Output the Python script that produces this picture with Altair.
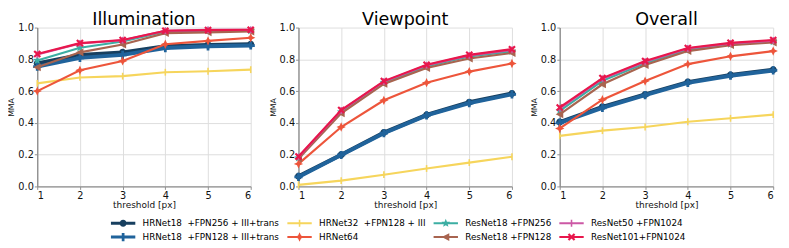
import math
import altair as alt
import pandas as pd

# ---------------- data ----------------
thresholds = [1, 2, 3, 4, 5, 6]
panels = ["Illumination", "Viewpoint", "Overall"]
series = [
    "HRNet18\u00a0 +FPN256 + III+trans",
    "HRNet18\u00a0 +FPN128 + III+trans",
    "HRNet32\u00a0 +FPN128 + III",
    "HRNet64",
    "ResNet18 +FPN256",
    "ResNet18 +FPN128",
    "ResNet50 +FPN1024",
    "ResNet101+FPN1024",
]

illumination = [
    [0.774, 0.828, 0.844, 0.883, 0.891, 0.895],
    [0.754, 0.809, 0.828, 0.871, 0.882, 0.887],
    [0.649, 0.686, 0.694, 0.719, 0.725, 0.735],
    [0.600, 0.731, 0.790, 0.895, 0.916, 0.936],
    [0.793, 0.873, 0.912, 0.975, 0.980, 0.980],
    [0.750, 0.844, 0.893, 0.965, 0.970, 0.975],
    [0.830, 0.900, 0.920, 0.980, 0.985, 0.985],
    [0.834, 0.902, 0.922, 0.980, 0.984, 0.986],
]
viewpoint = [
    [0.064, 0.200, 0.339, 0.450, 0.530, 0.585],
    [0.060, 0.198, 0.335, 0.447, 0.525, 0.580],
    [0.010, 0.037, 0.074, 0.113, 0.150, 0.187],
    [0.142, 0.374, 0.542, 0.653, 0.723, 0.774],
    [0.180, 0.470, 0.655, 0.755, 0.818, 0.850],
    [0.175, 0.460, 0.645, 0.745, 0.805, 0.840],
    [0.185, 0.478, 0.660, 0.763, 0.825, 0.860],
    [0.189, 0.481, 0.663, 0.766, 0.828, 0.864],
]
overall = [
    [0.405, 0.501, 0.579, 0.657, 0.702, 0.735],
    [0.400, 0.495, 0.575, 0.652, 0.697, 0.730],
    [0.318, 0.351, 0.374, 0.407, 0.429, 0.452],
    [0.365, 0.546, 0.663, 0.770, 0.819, 0.852],
    [0.475, 0.665, 0.775, 0.860, 0.895, 0.912],
    [0.454, 0.643, 0.764, 0.852, 0.889, 0.906],
    [0.490, 0.678, 0.785, 0.868, 0.900, 0.918],
    [0.497, 0.682, 0.789, 0.871, 0.904, 0.922],
]
panel_values = [illumination, viewpoint, overall]

y_ticks = [0.0, 0.2, 0.4, 0.6, 0.8, 1.0]

# ---------------- styles ----------------
colors = ["#173F5F", "#20639B", "#F6D55C", "#ED553B",
          "#3CAEA3", "#A8644F", "#CC58A5", "#E8174C"]
widths = [4.0, 4.0, 2.2, 2.2, 2.2, 2.2, 2.2, 2.2]
marker_kind = ["circle", "plus", "bar", "star4", "star5", "tri", "bar", "x"]
legend_line_half = [1.6, 1.6, 1.0, 1.0, 1.0, 1.0, 1.0, 1.0]
FONT = "DejaVu Sans"


def poly(pts):
    return "M" + "L".join(f"{x:.2f},{y:.2f}" for x, y in pts) + "Z"


def marker_path(kind):
    if kind == "circle":
        r = 3.6
        return f"M{r},0A{r},{r} 0 1,1 {-r},0A{r},{r} 0 1,1 {r},0Z"
    if kind == "plus":
        a, w = 4.2, 1.4
        return poly([(-w, -a), (w, -a), (w, -w), (a, -w), (a, w), (w, w),
                     (w, a), (-w, a), (-w, w), (-a, w), (-a, -w), (-w, -w)])
    if kind == "bar":
        return poly([(-0.8, -3.5), (0.8, -3.5), (0.8, 3.5), (-0.8, 3.5)])
    if kind == "star4":
        a, i = 4.8, 1.5
        return poly([(0, -a), (i, -i), (a, 0), (i, i), (0, a), (-i, i), (-a, 0), (-i, -i)])
    if kind == "star5":
        pts = []
        for k in range(10):
            ang = -math.pi / 2 + k * math.pi / 5
            rad = 4.6 if k % 2 == 0 else 2.0
            pts.append((rad * math.cos(ang), rad * math.sin(ang)))
        return poly(pts)
    if kind == "tri":
        return poly([(-4.2, 0), (3.6, -4.0), (3.6, 4.0)])
    if kind == "x":
        out = ""
        L, w = 4.4, 1.1
        for ang in (math.pi / 4, -math.pi / 4):
            c, s = math.cos(ang), math.sin(ang)
            pts = [(x * c - y * s, x * s + y * c) for x, y in [(-L, -w), (L, -w), (L, w), (-L, w)]]
            out += poly(pts)
        return out
    return ""


def legend_path(i):
    h = legend_line_half[i]
    line = poly([(-12.5, -h), (12.5, -h), (12.5, h), (-12.5, h)])
    return line + marker_path(marker_kind[i])


# ---------------- table ----------------
rows = []
for p, vals in zip(panels, panel_values):
    for s, ys in zip(series, vals):
        for t, v in zip(thresholds, ys):
            rows.append({"panel": p, "series": s, "threshold": t, "mma": v})
df = pd.DataFrame(rows)

leg_paths = [legend_path(i) for i in range(len(series))]

PW, PH = 219, 163

X = alt.X("threshold:Q", scale=alt.Scale(domain=[1, 6], nice=False),
          axis=alt.Axis(values=thresholds, format="d", title="threshold [px]"))
Y = alt.Y("mma:Q", scale=alt.Scale(domain=[0, 1], nice=False),
          axis=alt.Axis(values=y_ticks, format=".1f", title="MMA"))


def panel_chart(p, with_legend):
    base = alt.Chart(df).transform_filter(alt.datum.panel == p)
    layers = []
    for i, s in enumerate(series):
        b = base.transform_filter(alt.datum.series == s)
        layers.append(b.mark_line(color=colors[i], strokeWidth=widths[i]).encode(x=X, y=Y))
        layers.append(b.mark_point(filled=True, shape=marker_path(marker_kind[i]), size=4,
                                   color=colors[i], opacity=1).encode(x=X, y=Y))
    if with_legend:
        leg = alt.Legend(
            orient="none", legendX=83.6, legendY=196, columns=4, direction="vertical", title=None,
            labelFont=FONT, labelFontSize=9, labelColor="#000000", labelLimit=0,
            symbolSize=4, labelOffset=15.5, columnPadding=8, rowPadding=3.4,
            symbolStrokeWidth=0, symbolOpacity=1, padding=0,
        )
        legend_layer = base.transform_filter("false").mark_point(
            filled=True, size=4, opacity=1).encode(
            x=X, y=Y,
            color=alt.Color("series:N", scale=alt.Scale(domain=series, range=colors), legend=leg),
            shape=alt.Shape("series:N", scale=alt.Scale(domain=series, range=leg_paths), legend=leg),
        )
        layers.append(legend_layer)
    return alt.layer(*layers).properties(
        width=PW, height=PH,
        title=alt.TitleParams(p, fontSize=18, font=FONT, fontWeight="normal",
                              color="#000000", offset=-6, frame="group", anchor="middle"),
    )


chart = alt.hconcat(*[panel_chart(p, k == 0) for k, p in enumerate(panels)], spacing=11).configure(
    padding=0, background="white",
).configure_view(stroke=None).configure_axis(
    labelFont=FONT, labelFontSize=10, labelColor="#111111",
    titleFont=FONT, titleFontSize=8, titleFontWeight="normal", titleColor="#111111",
    gridColor="#dddddd", gridWidth=1, domainColor="#8f8f8f", domainWidth=1.4,
    tickColor="#8f8f8f", tickSize=3, labelPadding=1,
).configure_axisY(titlePadding=2).configure_axisX(titlePadding=1, titleFontSize=9.2)

chart.save("out.html", embed_options={"renderer": "svg", "actions": False})
